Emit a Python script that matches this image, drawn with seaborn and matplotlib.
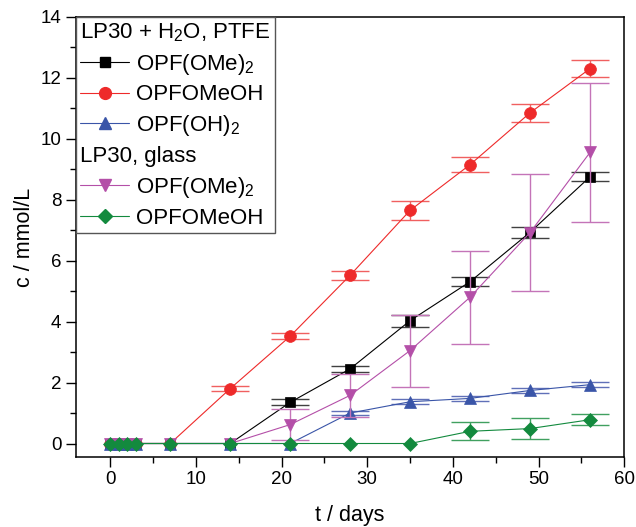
import numpy as np
import pandas as pd
import matplotlib
matplotlib.use("Agg")
import matplotlib.pyplot as plt
from matplotlib.lines import Line2D
import seaborn as sns

# ---- data ----
t = [0, 1, 2, 3, 7, 14, 21, 28, 35, 42, 49, 56]

ptfe_ompe = [0, 0, 0, 0, 0, 0, 1.35, 2.45, 4.03, 5.31, 6.93, 8.75]
ptfe_ompe_err = [0, 0, 0, 0, 0, 0, 0.10, 0.10, 0.20, 0.14, 0.18, 0.15]

ptfe_omeoh = [0, 0, 0, 0, 0, 1.80, 3.52, 5.52, 7.65, 9.15, 10.85, 12.30]
ptfe_omeoh_err = [0, 0, 0, 0, 0, 0.08, 0.10, 0.14, 0.30, 0.25, 0.30, 0.28]

ptfe_oh = [0, 0, 0, 0, 0, 0, 0, 1.00, 1.37, 1.48, 1.74, 1.93]
ptfe_oh_err = [0, 0, 0, 0, 0, 0, 0, 0.08, 0.08, 0.08, 0.08, 0.08]

glass_ompe = [0, 0, 0, 0, 0, 0, 0.62, 1.58, 3.05, 4.80, 6.92, 9.55]
glass_ompe_err = [0, 0, 0, 0, 0, 0, 0.50, 0.70, 1.18, 1.52, 1.92, 2.28]

glass_omeoh = [0, 0, 0, 0, 0, 0, 0, 0, 0, 0.40, 0.49, 0.78]
glass_omeoh_err = [0, 0, 0, 0, 0, 0, 0, 0, 0, 0.30, 0.35, 0.18]

labels = ["OPF(OMe)$_2$", "OPFOMeOH", "OPF(OH)$_2$", "OPF(OMe)$_2$", "OPFOMeOH"]
headers = ["LP30 + H$_2$O, PTFE", "LP30, glass"]

# ---- style ----
sns.set_theme(style="ticks")
plt.rcParams["font.family"] = ["Liberation Sans", "DejaVu Sans"]
plt.rcParams["mathtext.fontset"] = "custom"
plt.rcParams["mathtext.rm"] = "Liberation Sans"
plt.rcParams["mathtext.it"] = "Liberation Sans:italic"
plt.rcParams["text.color"] = "black"
plt.rcParams["axes.labelcolor"] = "black"
plt.rcParams["xtick.color"] = "black"
plt.rcParams["ytick.color"] = "black"

series = [
    (ptfe_ompe, ptfe_ompe_err, "#000000", "#404040", "s", 7.5),
    (ptfe_omeoh, ptfe_omeoh_err, "#EE2A2A", "#F06060", "o", 8.5),
    (ptfe_oh, ptfe_oh_err, "#3A55A8", "#6070B8", "^", 8.5),
    (glass_ompe, glass_ompe_err, "#B44FA8", "#C474B8", "v", 8.5),
    (glass_omeoh, glass_omeoh_err, "#138A3E", "#40A060", "D", 7.5),
]

fig = plt.figure(figsize=(6.36, 5.27), dpi=100)
ax = fig.add_axes([0.1195, 0.133, 0.862, 0.835])

handles = []
for i, (y, e, col, ecol, mk, ms) in enumerate(series):
    df = pd.DataFrame({"t": t, "c": y, "e": e})
    de = df[df["e"] > 0]
    ax.errorbar(de["t"], de["c"], yerr=de["e"], fmt="none", ecolor=ecol,
                elinewidth=1.0, capsize=14, capthick=1.0, zorder=2 + i)
    sns.lineplot(data=df, x="t", y="c", ax=ax, color=col, linewidth=0.8,
                 marker=mk, markersize=ms, markeredgewidth=0.5,
                 markeredgecolor=col, zorder=2.5 + i)
    handles.append(Line2D([], [], color=col, lw=0.8, marker=mk,
                          markersize=ms, markeredgecolor=col))

blank = Line2D([], [], color="none")
leg_handles = [blank, handles[0], handles[1], handles[2], blank, handles[3], handles[4]]
leg_labels = [headers[0], labels[0], labels[1], labels[2], headers[1], labels[3], labels[4]]
leg = ax.legend(leg_handles, leg_labels, loc="upper left", borderaxespad=0,
                fontsize=16, frameon=True, fancybox=False, framealpha=1,
                edgecolor="#555555", handlelength=2.2, handletextpad=0.3,
                labelspacing=0.35, borderpad=0.2)
leg.get_frame().set_linewidth(1.0)
# headers: remove handle space
for vpack in leg._legend_handle_box.get_children():
    for j, hpack in enumerate(vpack.get_children()):
        if j in (0, 4):
            hpack.get_children()[0].set_width(0)
            hpack.sep = 0

ax.set_xlim(-4, 60)
ax.set_ylim(-0.44, 14)
ax.set_xticks(np.arange(0, 61, 10))
ax.set_xticks(np.arange(5, 60, 10), minor=True)
ax.set_yticks(np.arange(0, 15, 2))
ax.set_yticks(np.arange(1, 14, 2), minor=True)
ax.tick_params(axis="both", which="major", length=7, width=1.0, labelsize=13.5,
               direction="out", color="#000000")
ax.tick_params(axis="both", which="minor", length=4, width=1.0, direction="out")
ax.tick_params(top=False, right=False)
for s in ax.spines.values():
    s.set_visible(True)
    s.set_linewidth(1.1)
    s.set_color("#000000")
ax.set_xlabel("t / days", fontsize=15.5, labelpad=12)
ax.set_ylabel("c / mmol/L", fontsize=15.5, labelpad=4)

fig.savefig("out.png", dpi=100)
